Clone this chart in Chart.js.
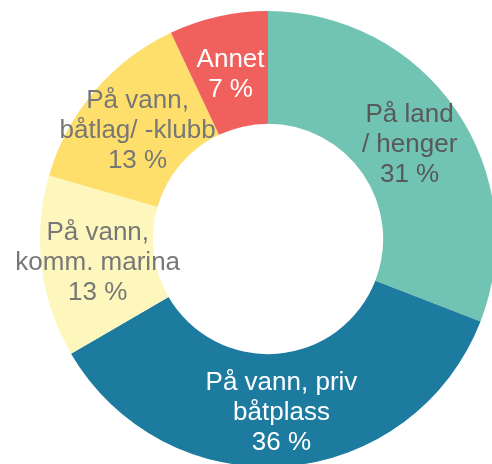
<!DOCTYPE html>
<html lang="no">
<head>
<meta charset="UTF-8">
<title>Båtplass</title>
<style>
    html, body { margin: 0; padding: 0; background: #fff; overflow: hidden; }
    body { width: 492px; height: 464px; position: relative; }
    /* a bit bigger than the window: the ring runs off the right and bottom edge */
    #wrap { position: absolute; left: 0; top: 0; width: 500px; height: 470px; }
</style>
</head>
<body>
<div id="wrap"><canvas id="chart"></canvas></div>

<script src="https://cdn.jsdelivr.net/npm/chart.js"></script>
<script>
    // data
    const categories = [
        ['På land', '/ henger'],
        ['På vann, priv', 'båtplass'],
        ['På vann,', 'komm. marina'],
        ['På vann,', 'båtlag/ -klubb'],
        ['Annet']
    ];
    const shares = [30.9, 35.7, 12.9, 13.5, 7.0];
    const shareLabels = ['31 %', '36 %', '13 %', '13 %', '7 %'];

    const sliceColors = ['#71c3b3', '#1d7ba0', '#fdf6bd', '#fedf6b', '#f0615e'];
    const textColors = ['#595959', '#ffffff', '#777777', '#777777', '#ffffff'];

    // draws the label text in the middle of each slice
    const sliceLabels = {
        id: 'sliceLabels',
        afterDatasetsDraw(chart) {
            const ctx = chart.ctx;
            const meta = chart.getDatasetMeta(0);
            ctx.save();
            ctx.font = '26px "Liberation Sans", Arial, sans-serif';
            ctx.textAlign = 'center';
            ctx.textBaseline = 'middle';
            const lineH = 30;
            meta.data.forEach((arc, i) => {
                const pos = arc.tooltipPosition();
                const lines = categories[i].concat([shareLabels[i]]);
                const top = pos.y + 3 - (lines.length - 1) * lineH / 2;
                ctx.fillStyle = textColors[i];
                lines.forEach((line, j) => {
                    ctx.fillText(line, pos.x, top + j * lineH);
                });
            });
            ctx.restore();
        }
    };

    new Chart(document.getElementById('chart'), {
        type: 'doughnut',
        data: {
            labels: categories.map(c => c.join(' ')),
            datasets: [{
                data: shares,
                backgroundColor: sliceColors,
                borderWidth: 0
            }]
        },
        options: {
            responsive: true,
            maintainAspectRatio: false,
            animation: false,
            cutout: '50.5%',
            layout: { padding: { left: 40, top: 11, right: 4, bottom: 3 } },
            plugins: {
                legend: { display: false },
                tooltip: { enabled: false }
            }
        },
        plugins: [sliceLabels]
    });
</script>
</body>
</html>
